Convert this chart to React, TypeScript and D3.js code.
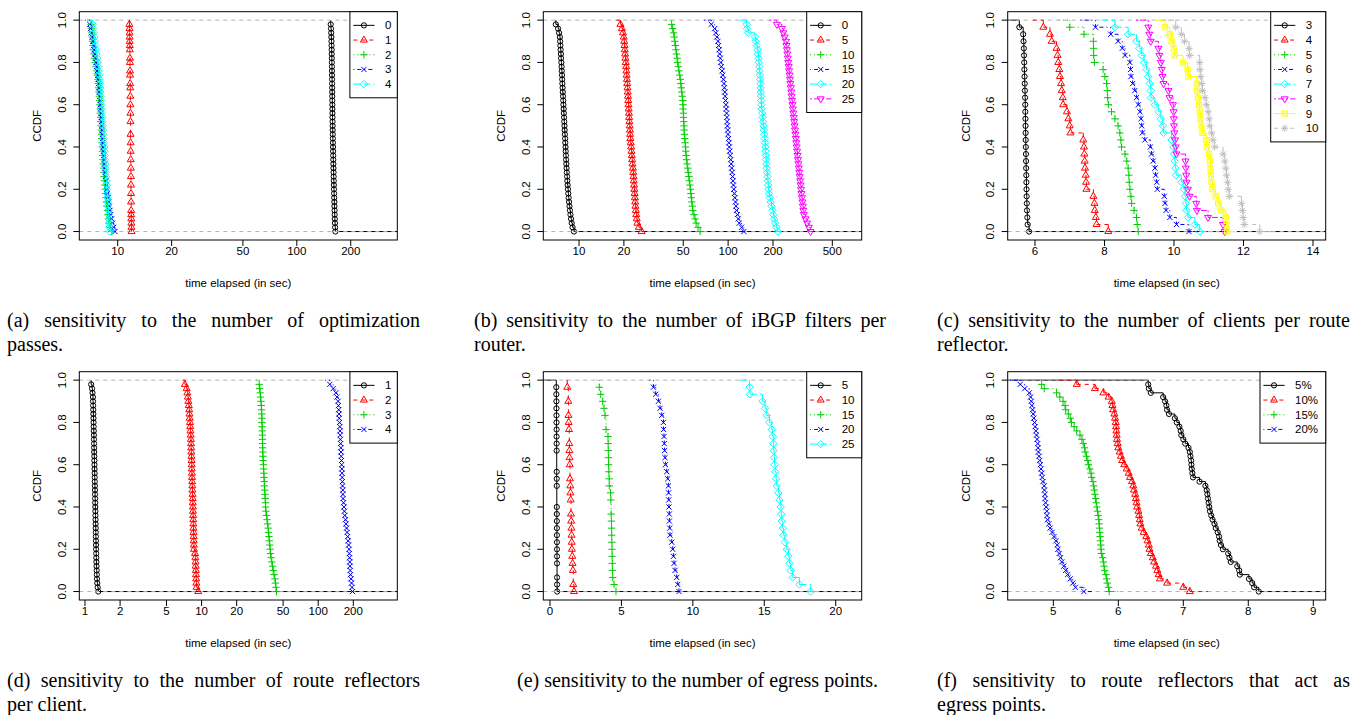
import React, { useMemo } from 'react';
import * as d3 from 'd3';

// ---------------- data (sample times in seconds; CCDF computed like R's ecdf) ----------------
const A_LABELS = ['0', '1', '2', '3', '4'];
const A_0 = [154.6,155.2,155.6,155.9,156.1,156.3,156.5,156.6,156.8,156.9,157.0,157.1,157.2,157.3,157.4,157.5,157.6,157.7,157.8,157.9,158.0,158.1,158.2,158.3,158.5,158.6,158.8,158.9,159.1,159.3,159.4,159.6,159.8,160.0,160.2,160.4,160.6,160.8,161.0,161.2,161.5,161.7,162.0,162.2,162.5,162.7,163.0,163.3,163.6,164.2];
const A_1 = [11.62,11.64,11.65,11.66,11.67,11.68,11.69,11.70,11.70,11.71,11.72,11.72,11.73,11.74,11.74,11.75,11.76,11.76,11.77,11.77,11.78,11.78,11.79,11.79,11.80,11.80,11.80,11.81,11.81,11.82,11.82,11.83,11.83,11.84,11.84,11.85,11.85,11.86,11.86,11.87,11.87,11.88,11.88,11.89,11.89,11.90,11.91,11.92,11.93,11.95];
const A_2 = [7.10,7.14,7.18,7.22,7.25,7.28,7.31,7.36,7.42,7.50,7.58,7.66,7.72,7.77,7.81,7.84,7.87,7.90,7.93,7.96,7.98,8.00,8.03,8.05,8.08,8.10,8.12,8.15,8.17,8.20,8.22,8.25,8.28,8.31,8.34,8.37,8.40,8.44,8.48,8.52,8.56,8.60,8.65,8.70,8.76,8.82,8.90,8.98,9.08,9.26];
const A_3 = [6.98,7.05,7.12,7.20,7.26,7.32,7.38,7.44,7.50,7.56,7.62,7.68,7.73,7.78,7.82,7.86,7.90,7.94,7.97,8.00,8.03,8.06,8.09,8.12,8.15,8.18,8.21,8.24,8.27,8.30,8.33,8.36,8.40,8.44,8.48,8.52,8.56,8.61,8.66,8.71,8.77,8.83,8.90,8.97,9.05,9.14,9.24,9.36,9.50,9.66];
const A_4 = [7.26,7.30,7.35,7.40,7.45,7.50,7.56,7.62,7.68,7.74,7.79,7.84,7.88,7.92,7.96,7.99,8.02,8.05,8.08,8.11,8.14,8.17,8.20,8.23,8.26,8.29,8.32,8.35,8.38,8.41,8.44,8.47,8.50,8.53,8.56,8.59,8.62,8.65,8.68,8.71,8.74,8.77,8.80,8.83,8.86,8.89,8.92,8.95,8.98,9.04];

const B_LABELS = ['0', '5', '10', '15', '20', '25'];
const B_0 = [6.99,7.24,7.35,7.44,7.47,7.50,7.53,7.56,7.58,7.61,7.64,7.66,7.69,7.71,7.73,7.76,7.78,7.81,7.84,7.86,7.89,7.91,7.94,7.96,7.99,8.01,8.04,8.07,8.09,8.12,8.14,8.17,8.19,8.22,8.25,8.28,8.32,8.35,8.39,8.43,8.47,8.52,8.57,8.63,8.69,8.76,8.84,8.93,9.05,9.25];
const B_5 = [18.96,19.40,19.70,19.96,20.08,20.18,20.28,20.38,20.48,20.58,20.70,20.78,20.87,20.96,21.05,21.14,21.22,21.31,21.40,21.47,21.55,21.62,21.70,21.78,21.86,21.94,22.02,22.10,22.22,22.35,22.48,22.60,22.72,22.85,22.97,23.10,23.20,23.30,23.40,23.50,23.60,23.70,23.80,23.90,24.05,24.20,24.40,24.60,25.20,26.30];
const B_10 = [41.8,42.5,43.1,43.5,43.9,44.3,44.7,45.1,45.5,45.9,46.3,46.8,47.3,47.8,48.2,48.5,48.9,49.2,49.6,49.8,49.9,50.1,50.2,50.4,50.6,50.7,50.9,51.2,51.5,51.8,52.0,52.3,52.7,53.1,53.6,54.0,54.5,54.9,55.4,55.9,56.3,56.7,57.1,57.6,58.0,59.0,60.0,61.0,62.8,64.9];
const B_15 = [77.1,81.2,82.6,84.0,85.5,86.3,87.0,87.8,88.6,89.3,90.1,91.0,92.0,92.9,93.8,94.4,94.9,95.5,96.1,96.6,97.2,97.6,98.1,98.5,98.9,99.4,99.8,100.5,101.2,101.8,102.5,103.3,104.1,104.8,105.6,106.4,107.1,107.8,108.5,109.2,110.1,111.0,112.0,112.9,113.8,115.4,117.0,118.7,123.0,127.5];
const B_20 = [133.0,134.0,136.5,151.4,153.0,155.5,157.8,158.8,159.8,160.8,161.7,162.7,163.6,164.1,164.7,165.2,165.7,166.3,166.8,167.4,167.9,169.1,170.3,171.5,172.7,173.9,175.1,175.9,176.7,177.5,178.3,179.1,179.9,180.7,181.5,182.6,183.6,184.7,185.8,186.9,188.0,190.5,193.1,195.6,198.2,201.0,203.7,206.5,210.8,215.2];
const B_25 = [212.3,229.5,234.5,239.5,244.4,246.1,247.9,249.6,251.3,253.1,254.8,256.5,258.2,259.9,261.5,263.2,264.9,266.6,268.3,270.1,271.9,273.7,275.5,277.3,279.1,280.9,282.7,284.6,286.5,288.4,290.2,292.1,294.0,295.9,297.8,299.9,302.0,304.1,306.1,308.2,310.3,312.6,315.0,317.3,319.7,322.0,330.5,338.9,348.0,357.0];

const C_LABELS = ['3', '4', '5', '6', '7', '8', '9', '10'];
const C_3 = [5.55,5.66,5.67,5.68,5.685,5.69,5.695,5.70,5.705,5.71,5.715,5.72,5.722,5.725,5.728,5.73,5.733,5.736,5.74,5.743,5.746,5.75,5.753,5.756,5.76,5.765,5.77,5.78,5.79,5.83];
const C_4 = [6.24,6.43,6.48,6.62,6.65,6.67,6.70,6.72,6.75,6.77,6.80,6.81,6.92,6.96,7.00,7.02,7.39,7.41,7.42,7.43,7.44,7.46,7.47,7.48,7.68,7.71,7.72,7.75,7.77,8.11];
const C_5 = [7.00,7.41,7.68,7.685,7.69,7.71,7.96,8.01,8.06,8.08,8.09,8.11,8.20,8.30,8.39,8.44,8.47,8.49,8.59,8.64,8.68,8.70,8.71,8.73,8.76,8.78,8.85,8.92,8.94,8.97];
const C_6 = [7.74,8.18,8.39,8.51,8.59,8.73,8.75,8.76,8.81,8.87,8.92,8.97,9.02,9.05,9.07,9.09,9.16,9.32,9.35,9.40,9.45,9.47,9.50,9.52,9.72,9.74,9.77,9.88,10.07,10.43];
const C_7 = [8.30,8.68,8.92,9.00,9.07,9.14,9.21,9.26,9.30,9.33,9.335,9.45,9.55,9.62,9.68,9.70,9.93,9.98,10.00,10.02,10.04,10.06,10.21,10.28,10.32,10.34,10.36,10.40,10.60,10.74];
const C_8 = [9.26,9.29,9.33,9.55,9.58,9.62,9.65,9.67,9.70,9.84,9.87,9.97,9.99,9.995,10.0,10.01,10.03,10.05,10.07,10.33,10.34,10.35,10.36,10.40,10.45,10.64,10.66,10.98,11.41,11.46];
const C_9 = [9.74,9.88,9.93,9.99,10.02,10.26,10.39,10.41,10.65,10.67,10.69,10.72,10.74,10.76,10.79,10.82,10.93,10.95,11.01,11.03,11.05,11.06,11.08,11.11,11.20,11.27,11.36,11.49,11.51,11.53];
const C_10 = [10.05,10.21,10.30,10.43,10.45,10.74,10.745,10.77,10.80,10.82,10.89,10.93,10.98,11.01,11.03,11.08,11.12,11.17,11.41,11.46,11.49,11.51,11.54,11.56,11.59,11.94,11.97,11.99,12.02,12.47];

const D_LABELS = ['1', '2', '3', '4'];
const D_1 = [1.13,1.15,1.16,1.17,1.172,1.175,1.178,1.18,1.183,1.185,1.187,1.19,1.192,1.194,1.196,1.198,1.20,1.202,1.204,1.206,1.208,1.21,1.212,1.214,1.216,1.218,1.22,1.222,1.224,1.226,1.228,1.23,1.232,1.234,1.236,1.238,1.24,1.242,1.244,1.246,1.248,1.25,1.253,1.256,1.26,1.264,1.268,1.275,1.285,1.30];
const D_2 = [7.19,7.44,7.55,7.63,7.70,7.77,7.83,7.87,7.91,7.95,7.99,8.03,8.07,8.10,8.12,8.14,8.16,8.18,8.20,8.22,8.24,8.26,8.28,8.30,8.32,8.34,8.37,8.39,8.40,8.42,8.44,8.46,8.48,8.50,8.51,8.53,8.55,8.57,8.59,8.60,8.78,8.84,8.88,8.90,8.93,8.96,8.99,9.02,9.06,9.35];
const D_3 = [31.2,31.5,31.8,32.0,32.3,32.5,32.7,32.8,32.9,32.95,33.0,33.1,33.2,33.25,33.3,33.4,33.5,33.6,33.7,33.9,34.0,34.2,34.3,34.5,34.6,34.8,34.9,35.1,35.3,35.4,35.6,36.0,36.4,36.8,37.2,37.5,37.8,38.1,38.4,38.7,39.0,39.5,40.0,40.6,41.1,41.8,42.5,43.0,43.4,43.9];
const D_4 = [125.7,134.3,141.6,145.0,148.2,149.0,149.9,150.7,151.5,152.4,153.2,153.8,154.5,155.1,155.8,156.4,157.1,157.7,158.4,158.9,159.5,160.0,160.6,161.2,161.7,162.3,162.8,163.4,164.8,166.2,167.6,169.0,171.0,173.0,175.0,177.0,178.8,180.5,182.3,184.0,184.8,185.7,186.5,187.3,188.2,189.0,191.0,193.0,195.0,197.0];

const E_LABELS = ['5', '10', '15', '20', '25'];
const E_5 = [0.44,0.445,0.45,0.452,0.455,0.457,0.46,0.462,0.465,0.467,0.47,0.47,0.47,0.472,0.474,0.476,0.476,0.476,0.478,0.48,0.482,0.484,0.486,0.488,0.49,0.492,0.494,0.494,0.497,0.50];
const E_10 = [1.21,1.28,1.28,1.29,1.29,1.31,1.33,1.35,1.35,1.36,1.37,1.38,1.40,1.40,1.42,1.43,1.45,1.47,1.47,1.48,1.50,1.51,1.52,1.53,1.56,1.58,1.60,1.63,1.63,1.68];
const E_15 = [3.45,3.55,3.69,3.78,3.85,3.92,3.92,4.06,4.07,4.08,4.09,4.10,4.12,4.14,4.15,4.24,4.26,4.28,4.28,4.30,4.31,4.32,4.33,4.34,4.35,4.36,4.37,4.39,4.48,4.62];
const E_20 = [7.24,7.40,7.59,7.70,7.82,7.94,7.95,7.98,8.00,8.02,8.05,8.08,8.17,8.24,8.29,8.30,8.31,8.33,8.35,8.36,8.38,8.40,8.52,8.59,8.64,8.68,8.75,8.87,8.94,9.03];
const E_25 = [13.96,14.00,14.88,15.06,15.17,15.36,15.52,15.59,15.64,15.66,15.69,15.72,15.76,15.83,15.87,15.99,16.06,16.15,16.18,16.22,16.29,16.34,16.45,16.57,16.69,16.76,16.85,16.99,17.46,18.25];

const F_LABELS = ['5%', '10%', '15%', '20%'];
const F_5 = [6.46,6.47,6.50,6.69,6.72,6.74,6.75,6.78,6.87,6.90,6.94,6.96,6.97,7.00,7.03,7.08,7.10,7.11,7.12,7.125,7.13,7.14,7.15,7.25,7.34,7.36,7.37,7.38,7.39,7.40,7.41,7.43,7.45,7.48,7.50,7.53,7.55,7.56,7.58,7.61,7.69,7.71,7.73,7.83,7.86,7.87,8.01,8.06,8.09,8.16];
const F_10 = [5.36,5.64,5.77,5.85,5.90,5.91,5.92,5.94,5.95,5.96,5.965,5.97,5.975,5.98,5.99,6.00,6.02,6.04,6.06,6.09,6.13,6.16,6.18,6.21,6.23,6.24,6.26,6.27,6.28,6.29,6.31,6.32,6.33,6.34,6.36,6.39,6.43,6.45,6.47,6.48,6.50,6.53,6.55,6.58,6.60,6.62,6.64,6.75,7.00,7.10];
const F_15 = [4.82,4.86,5.05,5.10,5.15,5.18,5.19,5.23,5.26,5.28,5.32,5.36,5.41,5.44,5.46,5.48,5.49,5.51,5.53,5.54,5.56,5.58,5.59,5.61,5.62,5.63,5.64,5.65,5.66,5.67,5.68,5.69,5.70,5.705,5.71,5.715,5.72,5.725,5.73,5.735,5.74,5.76,5.77,5.78,5.79,5.81,5.82,5.83,5.85,5.86];
const F_20 = [4.49,4.56,4.63,4.65,4.66,4.67,4.68,4.69,4.70,4.71,4.72,4.73,4.74,4.75,4.76,4.765,4.77,4.78,4.79,4.80,4.81,4.82,4.83,4.84,4.86,4.862,4.87,4.872,4.88,4.89,4.90,4.902,4.91,4.93,4.95,4.98,5.01,5.04,5.06,5.07,5.09,5.11,5.13,5.16,5.19,5.22,5.26,5.30,5.34,5.47];

const X_TICKS_A = [10, 20, 50, 100, 200];
const X_TICKS_B = [10, 20, 50, 100, 200, 500];
const X_TICKS_C = [6, 8, 10, 12, 14];
const X_TICKS_D = [1, 2, 5, 10, 20, 50, 100, 200];
const X_TICKS_E = [0, 5, 10, 15, 20];
const X_TICKS_F = [5, 6, 7, 8, 9];
const Y_TICKS = [0, 0.2, 0.4, 0.6, 0.8, 1.0];

const X_TITLE = 'time elapsed (in sec)';
const Y_TITLE = 'CCDF';

const CAPTION_A = ['(a) sensitivity to the number of optimization', 'passes.'];
const CAPTION_B = ['(b) sensitivity to the number of iBGP filters per', 'router.'];
const CAPTION_C = ['(c) sensitivity to the number of clients per route', 'reflector.'];
const CAPTION_D = ['(d) sensitivity to the number of route reflectors', 'per client.'];
const CAPTION_E = ['(e) sensitivity to the number of egress points.'];
const CAPTION_F = ['(f) sensitivity to route reflectors that act as', 'egress points.'];

// ---------------- styles (R defaults) ----------------
const PALETTE = ['#000000', '#FF0000', '#00CD00', '#0000FF', '#00FFFF', '#FF00FF', '#FFFF00', '#BEBEBE'];
const LTY_DASH: (string | undefined)[] = [undefined, '4,4', '1,3', '1,3,4,3', '7,3', '2,2,6,2'];
const SANS = '"Liberation Sans", Arial, Helvetica, sans-serif';
const SERIF = '"Liberation Serif", "Times New Roman", Times, serif';
const FS = 11.5;
const MR = 2.6; // marker radius

const COLS = [
  { x0: 79.3, x1: 397.3 },
  { x0: 543.3, x1: 861.7 },
  { x0: 1007.7, x1: 1325.7 },
];
const ROWS = [
  { y0: 11.7, y1: 240 },
  { y0: 371.7, y1: 600 },
];

type PanelCfg = {
  id: string;
  col: number;
  row: number;
  log: boolean;
  domain: [number, number];
  ticks: number[];
  series: number[][];
  labels: string[];
  legendW: number;
};

const PANELS: PanelCfg[] = [
  { id: 'a', col: 0, row: 0, log: true, domain: [6.105, 363.9], ticks: X_TICKS_A, series: [A_0, A_1, A_2, A_3, A_4], labels: A_LABELS, legendW: 47.4 },
  { id: 'b', col: 1, row: 0, log: true, domain: [5.76, 787], ticks: X_TICKS_B, series: [B_0, B_5, B_10, B_15, B_20, B_25], labels: B_LABELS, legendW: 55 },
  { id: 'c', col: 2, row: 0, log: false, domain: [5.215, 14.365], ticks: X_TICKS_C, series: [C_3, C_4, C_5, C_6, C_7, C_8, C_9, C_10], labels: C_LABELS, legendW: 55 },
  { id: 'd', col: 0, row: 1, log: true, domain: [0.894, 476.7], ticks: X_TICKS_D, series: [D_1, D_2, D_3, D_4], labels: D_LABELS, legendW: 47.4 },
  { id: 'e', col: 1, row: 1, log: false, domain: [-0.469, 21.82], ticks: X_TICKS_E, series: [E_5, E_10, E_15, E_20, E_25], labels: E_LABELS, legendW: 55 },
  { id: 'f', col: 2, row: 1, log: false, domain: [4.298, 9.191], ticks: X_TICKS_F, series: [F_5, F_10, F_15, F_20], labels: F_LABELS, legendW: 65.7 },
];

const CAPTIONS = [
  { lines: CAPTION_A, x0: 7, x1: 420, y: 327 },
  { lines: CAPTION_B, x0: 474, x1: 886, y: 327 },
  { lines: CAPTION_C, x0: 937, x1: 1350, y: 327 },
  { lines: CAPTION_D, x0: 7, x1: 420, y: 687 },
  { lines: CAPTION_E, x0: 517, x1: 878, y: 687 },
  { lines: CAPTION_F, x0: 937, x1: 1350, y: 687 },
];
const CAPTION_LINE_GAP = 23.5;

function markerPath(pch: number, R: number): string {
  const p = d3.path();
  const s2 = Math.SQRT2;
  const r = 1.5551 * R, xc = 1.3468 * R, yc = 0.7776 * R;
  switch (pch) {
    case 1: p.moveTo(R, 0); p.arc(0, 0, R, 0, 2 * Math.PI); break;
    case 2: p.moveTo(0, -r); p.lineTo(xc, yc); p.lineTo(-xc, yc); p.closePath(); break;
    case 3: { const c = s2 * R; p.moveTo(-c, 0); p.lineTo(c, 0); p.moveTo(0, -c); p.lineTo(0, c); break; }
    case 4: p.moveTo(-R, -R); p.lineTo(R, R); p.moveTo(-R, R); p.lineTo(R, -R); break;
    case 5: { const c = s2 * R; p.moveTo(-c, 0); p.lineTo(0, -c); p.lineTo(c, 0); p.lineTo(0, c); p.closePath(); break; }
    case 6: p.moveTo(0, r); p.lineTo(xc, -yc); p.lineTo(-xc, -yc); p.closePath(); break;
    case 7: p.rect(-R, -R, 2 * R, 2 * R); p.moveTo(-R, -R); p.lineTo(R, R); p.moveTo(-R, R); p.lineTo(R, -R); break;
    case 8: { const c = s2 * R; p.moveTo(-R, -R); p.lineTo(R, R); p.moveTo(-R, R); p.lineTo(R, -R); p.moveTo(-c, 0); p.lineTo(c, 0); p.moveTo(0, -c); p.lineTo(0, c); break; }
  }
  return p.toString();
}

function ccdf(vals: number[]) {
  const sorted = vals.slice().sort((a, b) => a - b);
  const n = sorted.length;
  const knots: number[] = [];
  const ys: number[] = [];
  let count = 0;
  for (let i = 0; i < n; i++) {
    count++;
    if (i === n - 1 || sorted[i + 1] !== sorted[i]) {
      knots.push(sorted[i]);
      ys.push(1 - count / n);
    }
  }
  return { knots, ys };
}

function Series({ vals, k, cfg, x, y }: { vals: number[]; k: number; cfg: PanelCfg; x: any; y: any }) {
  const { knots, ys } = ccdf(vals);
  const color = PALETTE[k % PALETTE.length];
  const dash = LTY_DASH[k % 6];
  const pch = k + 1;
  let left: number | null;
  let right: number;
  if (k === 0) {
    left = cfg.log ? null : cfg.domain[0];
    right = cfg.domain[1];
  } else {
    const mn = knots[0], mx = knots[knots.length - 1];
    const diffs = d3.pairs(knots, (a, b) => b - a);
    const dr = Math.max(0.08 * (mx - mn), d3.median(diffs) ?? 0);
    left = mn - 2 * dr;
    if (cfg.log && left <= 0) left = null;
    right = mx + 2 * dr;
  }
  const ti: (number | null)[] = [left, ...knots, right];
  const levels = [1, ...ys];
  const segs: JSX.Element[] = [];
  for (let i = 0; i < ti.length - 1; i++) {
    const a = ti[i], b = ti[i + 1];
    if (a == null || b == null) continue;
    segs.push(<line key={'h' + i} x1={x(a)} x2={x(b)} y1={y(levels[i])} y2={y(levels[i])} />);
  }
  knots.forEach((kx, j) => {
    segs.push(<line key={'v' + j} x1={x(kx)} x2={x(kx)} y1={y(levels[j])} y2={y(ys[j])} />);
  });
  const mp = markerPath(pch, MR);
  return (
    <g>
      <g stroke={color} strokeWidth={1} strokeDasharray={dash} fill="none">{segs}</g>
      <g stroke={color} strokeWidth={1} fill="none">
        {knots.map((kx, j) => (
          <path key={j} d={mp} transform={`translate(${x(kx)},${y(ys[j])})`} />
        ))}
      </g>
    </g>
  );
}

function Panel({ cfg }: { cfg: PanelCfg }) {
  const { x0, x1 } = COLS[cfg.col];
  const { y0, y1 } = ROWS[cfg.row];
  const x: any = cfg.log
    ? d3.scaleLog().domain(cfg.domain).range([x0, x1])
    : d3.scaleLinear().domain(cfg.domain).range([x0, x1]);
  const y = d3.scaleLinear().domain([-0.04, 1.04]).range([y1, y0]);
  const clipId = `clip-${cfg.id}`;
  const cx = (x0 + x1) / 2;
  const cy = (y0 + y1) / 2;
  const fmtY = d3.format('.1f');

  const lgX0 = x1 - cfg.legendW;
  const rowH = 14.7;
  const lgH = cfg.labels.length * rowH + 12.6;

  const others = cfg.series.slice(1);
  return (
    <g>
      <defs>
        <clipPath id={clipId}>
          <rect x={x0} y={y0} width={x1 - x0} height={y1 - y0} />
        </clipPath>
      </defs>
      <g clipPath={`url(#${clipId})`}>
        <Series vals={cfg.series[0]} k={0} cfg={cfg} x={x} y={y} />
        {[0, 1].map((v) => (
          <line key={v} x1={x0} x2={x1} y1={y(v)} y2={y(v)} stroke="#B3B3B3" strokeWidth={1} strokeDasharray="4,4" />
        ))}
        {others.map((s, i) => (
          <Series key={i} vals={s} k={i + 1} cfg={cfg} x={x} y={y} />
        ))}
      </g>
      <rect x={x0} y={y0} width={x1 - x0} height={y1 - y0} fill="none" stroke="#000" strokeWidth={1} />
      <g fontFamily={SANS} fontSize={FS} fill="#000">
        {cfg.ticks.map((t) => (
          <g key={t}>
            <line x1={x(t)} x2={x(t)} y1={y1} y2={y1 + 6} stroke="#000" strokeWidth={1} />
            <text x={x(t)} y={y1 + 10.5} textAnchor="middle" dominantBaseline="central">{String(t)}</text>
          </g>
        ))}
        {Y_TICKS.map((t) => (
          <g key={t}>
            <line x1={x0 - 6} x2={x0} y1={y(t)} y2={y(t)} stroke="#000" strokeWidth={1} />
            <text transform={`translate(${x0 - 17.5},${y(t)}) rotate(-90)`} textAnchor="middle" dominantBaseline="central">{fmtY(t)}</text>
          </g>
        ))}
        <text x={cx} y={y1 + 42.5} textAnchor="middle" dominantBaseline="central">{X_TITLE}</text>
        <text transform={`translate(${x0 - 42},${cy}) rotate(-90)`} textAnchor="middle" dominantBaseline="central">{Y_TITLE}</text>
      </g>
      <g>
        <rect x={lgX0} y={y0} width={cfg.legendW} height={lgH} fill="#fff" stroke="#000" strokeWidth={1} />
        {cfg.labels.map((lab, k) => {
          const ry = y0 + 6.3 + rowH * (k + 0.5);
          const color = PALETTE[k % PALETTE.length];
          return (
            <g key={lab}>
              <line x1={lgX0 + 3.4} x2={lgX0 + 24.6} y1={ry} y2={ry} stroke={color} strokeWidth={1} strokeDasharray={LTY_DASH[k % 6]} />
              <path d={markerPath(k + 1, MR)} transform={`translate(${lgX0 + 14},${ry})`} stroke={color} strokeWidth={1} fill="none" />
              <text x={lgX0 + 35} y={ry} dominantBaseline="central" fontFamily={SANS} fontSize={FS}>{lab}</text>
            </g>
          );
        })}
      </g>
    </g>
  );
}

function Captions() {
  const ctx = useMemo(() => {
    const c = document.createElement('canvas').getContext('2d')!;
    c.font = `20px ${SERIF}`;
    return c;
  }, []);
  return (
    <g fontFamily={SERIF} fontSize={20} fill="#000">
      {CAPTIONS.map((cap, ci) =>
        cap.lines.map((line, li) => {
          const yy = cap.y + li * CAPTION_LINE_GAP;
          const justify = li < cap.lines.length - 1;
          if (!justify) {
            return <text key={`${ci}-${li}`} x={cap.x0} y={yy}>{line}</text>;
          }
          const words = line.split(' ');
          const widths = words.map((w) => ctx.measureText(w).width);
          const total = d3.sum(widths);
          const gap = (cap.x1 - cap.x0 - total) / (words.length - 1);
          let xx = cap.x0;
          return (
            <text key={`${ci}-${li}`} y={yy}>
              {words.map((w, i) => {
                const el = <tspan key={i} x={xx}>{w}</tspan>;
                xx += widths[i] + gap;
                return el;
              })}
            </text>
          );
        })
      )}
    </g>
  );
}

export default function App() {
  return (
    <svg
      width={1364}
      height={715}
      viewBox="0 0 1364 715"
      style={{ position: 'absolute', left: 0, top: 0, background: '#fff' }}
    >
      <rect x={0} y={0} width={1364} height={715} fill="#fff" />
      {PANELS.map((p) => (
        <Panel key={p.id} cfg={p} />
      ))}
      <Captions />
    </svg>
  );
}
